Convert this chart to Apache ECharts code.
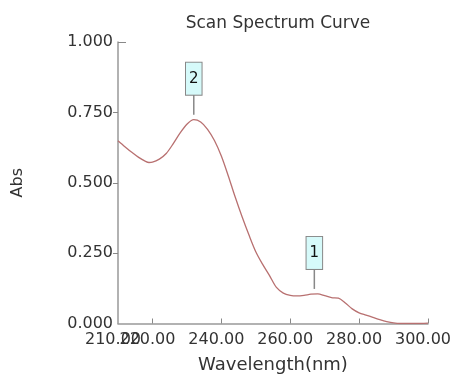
<!DOCTYPE html>
<html>
<head>
<meta charset="utf-8">
<script src="https://cdn.jsdelivr.net/npm/echarts@6/dist/echarts.min.js"></script>
<style>
html,body{margin:0;padding:0;background:#fff;}
#chart{width:462px;height:380px;}
</style>
</head>
<body>
<div id="chart"></div>
<script>
var wavelengths = [210,212,214,216,218,219,220,222,224,226,228,230,232,234,236,238,240,242,244,246,248,250,252,254,256,258,260,262,264,266,268,270,272,274,276,278,280,282,284,286,288,290,292,294,296,298,300];
var absorbance = [0.649,0.628,0.608,0.590,0.576,0.572,0.573,0.584,0.604,0.638,0.676,0.708,0.724,0.716,0.690,0.650,0.595,0.525,0.450,0.380,0.315,0.255,0.210,0.170,0.128,0.108,0.100,0.098,0.100,0.104,0.105,0.099,0.092,0.090,0.073,0.052,0.038,0.030,0.022,0.014,0.007,0.002,0.000,0.000,0.000,0.000,0.001];
var peakLabels = ['2','1'];
var peakX = [232,267];
var peakY = [0.724,0.105];
var xLabelValues = [220,240,260,280,300];
var xOriginLabel = [210];
var xTickValues = [220,240,260,280,300];
var yTickValues = [0.25,0.5,0.75];

var FONT = 'DejaVu Sans';
var chart = echarts.init(document.getElementById('chart'), null, {renderer:'canvas'});
var points = wavelengths.map(function(w,i){return [w, absorbance[i]];});
var marks = peakLabels.map(function(t,i){
  return {name:t, coord:[peakX[i], peakY[i]], value:t};
});
var xLabelStyle = {fontFamily:FONT, fontSize:16, color:'#333', margin:8, padding:[0,10,0,0],
  formatter:function(v){return v.toFixed(2);}};
chart.setOption({
  animation:false,
  backgroundColor:'#fff',
  title:{
    text:'Scan Spectrum Curve', left:273, top:10, textAlign:'center',
    textStyle:{fontFamily:FONT, fontSize:17, fontWeight:'normal', color:'#333'}
  },
  grid:{left:118, right:34, top:42, height:281.5},
  xAxis:[{
    type:'value', min:210, max:300, interval:10,
    name:'Wavelength(nm)', nameLocation:'middle', nameGap:33,
    nameTextStyle:{fontFamily:FONT, fontSize:18, color:'#333'},
    axisLine:{lineStyle:{color:'#999', width:1.5}},
    axisTick:{inside:true, length:5, customValues:xTickValues, lineStyle:{color:'#888'}},
    axisLabel:Object.assign({customValues:xLabelValues}, xLabelStyle),
    splitLine:{show:false}
  },{
    type:'value', min:210, max:300, interval:10, position:'bottom', offset:0,
    axisLine:{show:false}, axisTick:{show:false},
    axisLabel:Object.assign({customValues:xOriginLabel}, xLabelStyle),
    splitLine:{show:false}
  }],
  yAxis:[{
    type:'value', min:0, max:1, interval:0.25,
    name:'Abs', nameLocation:'middle', nameGap:92, nameRotate:90,
    nameTextStyle:{fontFamily:FONT, fontSize:16, color:'#333'},
    axisLine:{show:true, lineStyle:{color:'#999', width:1.5}},
    axisTick:{show:true, length:5, customValues:yTickValues, lineStyle:{color:'#888'}},
    axisLabel:{fontFamily:FONT, fontSize:16, color:'#333', margin:5,
      formatter:function(v){return v.toFixed(3);}},
    splitLine:{show:false}
  },{
    type:'value', min:0, max:1, interval:0.25, position:'left',
    axisLine:{show:false},
    axisTick:{show:true, inside:true, length:8, customValues:[1], lineStyle:{color:'#888'}},
    axisLabel:{show:false}, splitLine:{show:false}
  }],
  series:[{
    type:'line', data:points, smooth:0.3, showSymbol:false,
    lineStyle:{color:'#b87070', width:1.3},
    markPoint:{
      symbol:'rect', symbolSize:[1.5,20], symbolOffset:[0,-15],
      itemStyle:{color:'#888'},
      label:{
        show:true, position:'top', distance:0,
        formatter:function(p){return p.name;},
        fontFamily:FONT, fontSize:15, color:'#111',
        backgroundColor:'#d6fafa', borderColor:'#888', borderWidth:1,
        padding:[8,3,8,3], lineHeight:16
      },
      data:marks
    }
  }]
});
</script>
</body>
</html>
